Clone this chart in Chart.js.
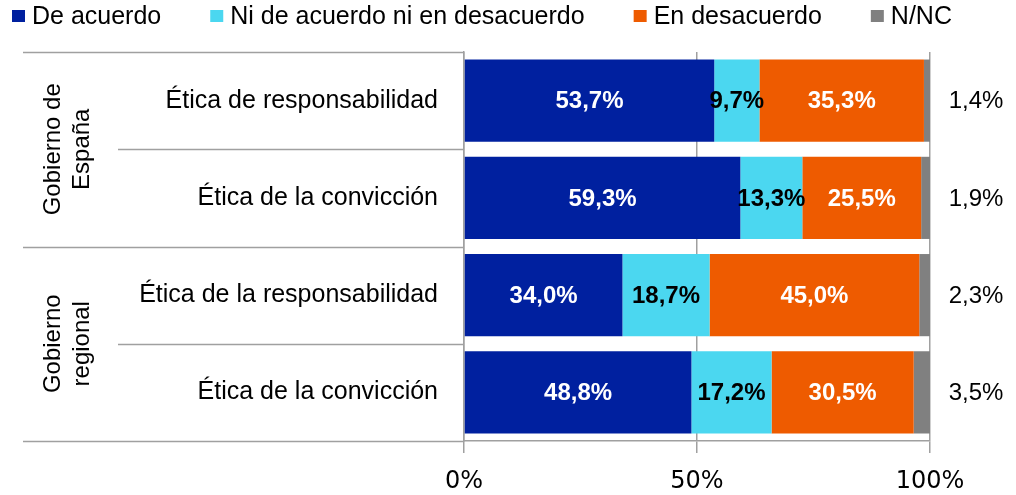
<!DOCTYPE html>
<html>
<head>
<meta charset="utf-8">
<script src="https://cdn.jsdelivr.net/npm/chart.js@4.4.1/dist/chart.umd.min.js"></script>
<style>
  html, body { margin: 0; padding: 0; background: #fff; }
  #wrap { width: 1016px; height: 495px; position: relative; }
</style>
</head>
<body>
<div id="wrap"><canvas id="chart"></canvas></div>
<script>
// ===== datos =====
const categorias = ["Ética de responsabilidad", "Ética de la convicción", "Ética de la responsabilidad", "Ética de la convicción"];
const grupos = [["Gobierno de", "España"], ["Gobierno", "regional"]];
const series = ["De acuerdo", "Ni de acuerdo ni en desacuerdo", "En desacuerdo", "N/NC"];
const deAcuerdo = [53.7, 59.3, 34.0, 48.8];
const niNi = [9.7, 13.3, 18.7, 17.2];
const enDesacuerdo = [35.3, 25.5, 45.0, 30.5];
const nsnc = [1.4, 1.9, 2.3, 3.5];
const ticksX = [0, 50, 100];

const colores = ["#00209F", "#4BD7F0", "#EE5B00", "#808080"];
const colorTexto = ["#ffffff", "#000000", "#ffffff", null];
const FONT = "'Liberation Sans', Arial, sans-serif";
const GRIS = "#A0A0A0";

const fmt = v => v.toFixed(1).replace(".", ",") + "%";

// ===== plugin: leyenda, etiquetas, grupos =====
const extras = {
    id: "extras",
    afterDraw(chart) {
        const ctx = chart.ctx;
        const area = chart.chartArea;
        ctx.save();

        // leyenda
        ctx.font = "25px " + FONT;
        ctx.textBaseline = "middle";
        ctx.textAlign = "left";
        let lx = 12;
        chart.data.datasets.forEach((ds) => {
            ctx.fillStyle = ds.backgroundColor;
            ctx.fillRect(lx, 10, 13, 12);
            ctx.fillStyle = "#000";
            ctx.fillText(ds.label, lx + 20, 17);
            lx += 20 + ctx.measureText(ds.label).width + 49;
        });

        // lineas a la izquierda
        const band = (area.bottom - area.top) / categorias.length;
        ctx.strokeStyle = GRIS;
        ctx.lineWidth = 1.5;
        for (let i = 0; i <= categorias.length; i++) {
            const y = Math.round(area.top + i * band) + 0.5;
            const x0 = (i % 2 === 0) ? 23 : 118;
            ctx.beginPath();
            ctx.moveTo(x0, y);
            ctx.lineTo(area.left, y);
            ctx.stroke();
        }

        // grupos (rotados)
        ctx.fillStyle = "#000";
        ctx.font = "24px " + FONT;
        ctx.textAlign = "center";
        grupos.forEach((g, gi) => {
            const cy = area.top + (gi * 2 + 1) * band;
            ctx.save();
            ctx.translate(67, cy);
            ctx.rotate(-Math.PI / 2);
            ctx.fillText(g[0], 0, -14);
            ctx.fillText(g[1], 0, 15);
            ctx.restore();
        });

        // etiquetas de datos
        chart.data.datasets.forEach((ds, di) => {
            const meta = chart.getDatasetMeta(di);
            meta.data.forEach((bar, j) => {
                const p = bar.getProps(["x", "y", "base"], true);
                const v = ds.data[j];
                ctx.textAlign = "center";
                if (colorTexto[di]) {
                    ctx.font = "bold 24px " + FONT;
                    ctx.fillStyle = colorTexto[di];
                    ctx.fillText(fmt(v), (p.x + p.base) / 2, p.y + 1);
                } else {
                    ctx.font = "24px " + FONT;
                    ctx.fillStyle = "#000";
                    ctx.fillText(fmt(v), area.right + 46, p.y + 1);
                }
            });
        });
        ctx.restore();
    }
};

const valores = [deAcuerdo, niNi, enDesacuerdo, nsnc];

new Chart(document.getElementById("chart"), {
    type: "bar",
    data: {
        labels: categorias,
        datasets: series.map((s, i) => ({
            label: s,
            data: valores[i],
            backgroundColor: colores[i],
            borderWidth: 0,
            categoryPercentage: 1,
            barPercentage: 0.845
        }))
    },
    options: {
        indexAxis: "y",
        responsive: true,
        maintainAspectRatio: false,
        animation: false,
        layout: { padding: { top: 52, right: 86, left: 0, bottom: 0 } },
        plugins: {
            legend: { display: false },
            tooltip: { enabled: false }
        },
        scales: {
            x: {
                stacked: true,
                min: ticksX[0],
                max: ticksX[ticksX.length - 1],
                afterBuildTicks: axis => { axis.ticks = ticksX.map(v => ({ value: v })); },
                afterFit: axis => { axis.height = 54; },
                ticks: {
                    callback: v => v + "%",
                    font: { family: "'DejaVu Sans', Verdana, sans-serif", size: 24 },
                    color: "#000",
                    padding: 14,
                    maxRotation: 0
                },
                grid: { color: GRIS, lineWidth: 1.5, tickLength: 12 },
                border: { color: GRIS, width: 1.5 }
            },
            y: {
                stacked: true,
                afterFit: axis => { axis.width = 464; },
                ticks: {
                    font: { family: FONT, size: 25 },
                    color: "#000",
                    padding: 26
                },
                grid: { display: false, drawTicks: false },
                border: { color: GRIS, width: 1.5 }
            }
        }
    },
    plugins: [extras]
});
</script>
</body>
</html>
